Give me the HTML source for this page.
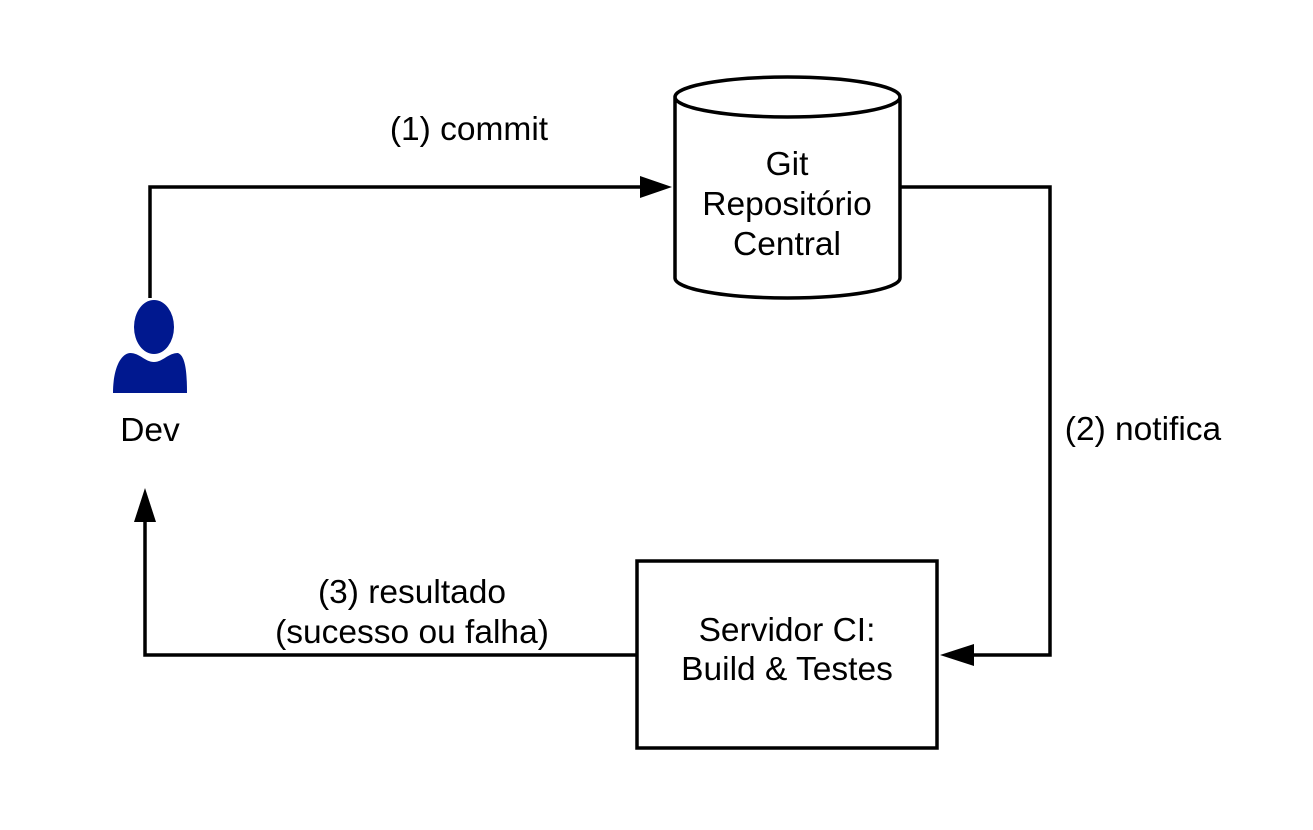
<!DOCTYPE html>
<html><head><style>html,body{margin:0;padding:0;background:#fff;}</style></head>
<body>
<svg width="1313" height="825" viewBox="0 0 1313 825" xmlns="http://www.w3.org/2000/svg" font-family="Liberation Sans, sans-serif" font-size="28" fill="#000">
<rect width="1313" height="825" fill="#fff"/>
<g fill="none" stroke="#000" stroke-width="3.5">
<polyline points="150,298 150,187 642,187"/>
<polyline points="900,187 1050,187 1050,655 972,655"/>
<polyline points="637,655 145,655 145,520"/>
<path d="M675,97 L675,278 A112.5,20 0 0 0 900,278 L900,97 A112.5,20 0 0 0 675,97 A112.5,20 0 0 0 900,97"/>
<rect x="637" y="561" width="300" height="187"/>
</g>
<polygon points="672,187 640,176 640,198" fill="#000"/>
<polygon points="940,655 974,644 974,666" fill="#000"/>
<polygon points="145,488 134,522 156,522" fill="#000"/>
<g fill="#00188f">
<ellipse cx="154" cy="327" rx="20" ry="27"/>
<path d="M113,393 C113,370 120,354 130,353 C140,353 145,362 154,362 C163,362 168,353 178,353 C186,356 187,375 187,393 Z"/>
</g>
<g text-anchor="middle" font-size="33.5">
<text x="469" y="140">(1) commit</text>
<text x="787" y="175">Git</text>
<text x="787" y="215">Repositório</text>
<text x="787" y="255">Central</text>
<text x="150" y="441">Dev</text>
<text x="1143" y="440">(2) notifica</text>
<text x="412" y="603">(3) resultado</text>
<text x="412" y="643">(sucesso ou falha)</text>
<text x="787" y="641">Servidor CI:</text>
<text x="787" y="680">Build &amp; Testes</text>
</g>
</svg>
</body></html>
